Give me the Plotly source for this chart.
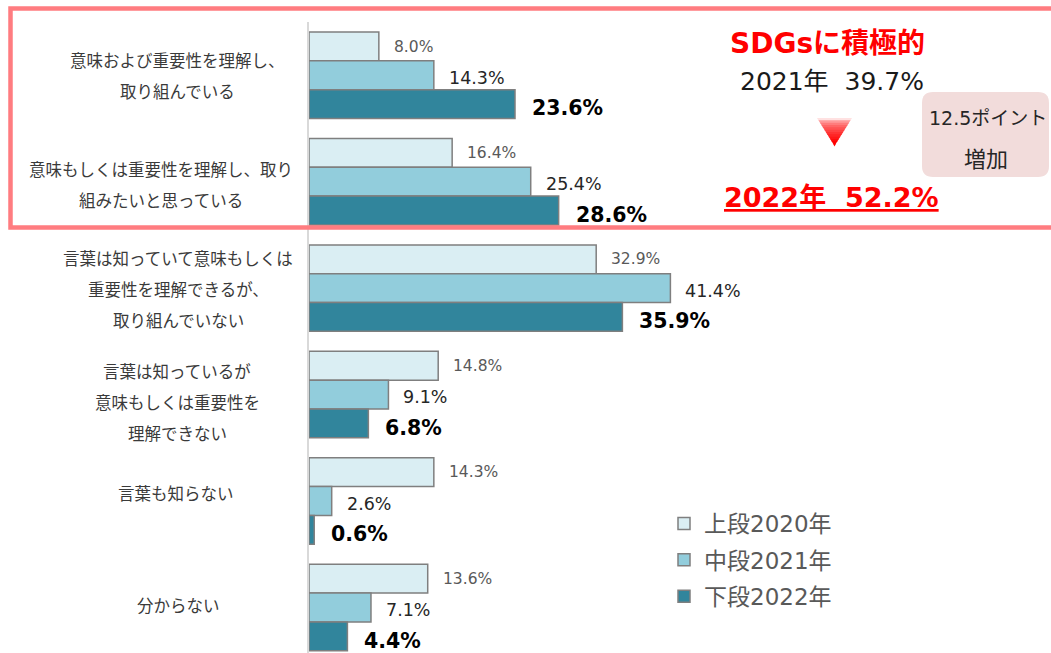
import plotly.graph_objects as go

# ---------------- data ----------------
category_lines = [
    ["意味および重要性を理解し、", "取り組んでいる"],
    ["意味もしくは重要性を理解し、取り", "組みたいと思っている"],
    ["言葉は知っていて意味もしくは", "重要性を理解できるが、", "取り組んでいない"],
    ["言葉は知っているが", "意味もしくは重要性を", "理解できない"],
    ["言葉も知らない"],
    ["分からない"],
]
categories = ["".join(lines) for lines in category_lines]

series_names = ["上段2020年", "中段2021年", "下段2022年"]
values_2020 = [8.0, 16.4, 32.9, 14.8, 14.3, 13.6]
values_2021 = [14.3, 25.4, 41.4, 9.1, 2.6, 7.1]
values_2022 = [23.6, 28.6, 35.9, 6.8, 0.6, 4.4]
series_values = [values_2020, values_2021, values_2022]

title_text = "SDGsに積極的"
before_text = "2021年\u00a0\u00a039.7%"
after_text = "2022年\u00a0\u00a052.2%"
box_lines = ["12.5ポイント", "増加"]

# ---------------- style ----------------
W, H = 1051, 653
ML, MR, MT, MB = 309, 0, 22, 0
PW, PH = W - ML - MR, H - MT - MB
bar_colors = ["#DAEEF3", "#92CDDC", "#31859C"]
NUM_FONT = "DejaVu Sans, Noto Sans CJK JP"
JP_FONT = "Noto Sans CJK JP"


def px2x(px):
    return (px - ML) / PW


def py2y(py):
    return (H - MB - py) / PH


fig = go.Figure()
for name, vals, col in zip(series_names, series_values, bar_colors):
    fig.add_trace(go.Bar(
        y=categories, x=vals, name=name, orientation="h",
        marker=dict(color=col, line=dict(color="#7F7F7F", width=1.5)),
        legendgroup=name, hoverinfo="skip",
    ))

annotations = []
# value labels
label_styles = [
    dict(size=15.5, color="#595959", family=NUM_FONT),
    dict(size=17.5, color="#262626", family=NUM_FONT),
    dict(size=20.5, color="#000000", family=NUM_FONT),
]
bar_px = 28.7
y_adj = [0, -2.5, -4.5]
x_adj = [13, 13, 15]
for i, vals in enumerate(series_values):
    for cat, v in zip(categories, vals):
        text = f"{v:.1f}%"
        if i == 2:
            text = f"<b>{text}</b>"
        annotations.append(dict(
            x=v, y=cat, xref="x", yref="y", text=text, showarrow=False,
            xanchor="left", yanchor="middle", xshift=x_adj[i],
            yshift=(1 - i) * bar_px + y_adj[i], font=label_styles[i],
        ))

# category labels (one annotation per line)
label_cx = [177, 161, 178, 177, 176, 178]
label_dy = [0, 3, 1, 7, -8, -2]
line_gap = 31
for cat, lines, cx, dy in zip(categories, category_lines, label_cx, label_dy):
    n = len(lines)
    for j, ln in enumerate(lines):
        annotations.append(dict(
            x=px2x(cx), y=cat, xref="paper", yref="y", text=ln,
            showarrow=False, xanchor="center", yanchor="middle",
            yshift=((n - 1) / 2 - j) * line_gap - dy,
            font=dict(family=JP_FONT, size=16.5, color="#3A3A3A"),
        ))

# right-side callout texts
annotations += [
    dict(x=px2x(827), y=py2y(43), xref="paper", yref="paper",
         text=f"<b>{title_text}</b>", showarrow=False,
         xanchor="center", yanchor="middle",
         font=dict(family=NUM_FONT, size=28, color="#FF0000")),
    dict(x=px2x(832), y=py2y(82), xref="paper", yref="paper",
         text=before_text, showarrow=False, xanchor="center", yanchor="middle",
         font=dict(family=NUM_FONT, size=25, color="#1A1A1A")),
    dict(x=px2x(831), y=py2y(198), xref="paper", yref="paper",
         text=f"<b><u>{after_text}</u></b>", showarrow=False,
         xanchor="center", yanchor="middle",
         font=dict(family=NUM_FONT, size=27, color="#FF0000")),
    dict(x=px2x(988), y=py2y(118), xref="paper", yref="paper",
         text=box_lines[0], showarrow=False, xanchor="center", yanchor="middle",
         font=dict(family=NUM_FONT, size=19, color="#262626")),
    dict(x=px2x(986), y=py2y(157), xref="paper", yref="paper",
         text=box_lines[1], showarrow=False, xanchor="center", yanchor="middle",
         font=dict(family=JP_FONT, size=22, color="#262626")),
]

shapes = []
# pink frame
shapes.append(dict(type="rect", xref="paper", yref="paper",
                   x0=px2x(10.5), x1=px2x(1070), y0=py2y(227.5), y1=py2y(8.5),
                   line=dict(color="#FF7C80", width=4.5), fillcolor="rgba(0,0,0,0)",
                   layer="above"))

# rounded pink box
bx0, bx1, by0, by1, r = 922, 1049, 92, 177, 11
rx, ry = r / PW, r / PH
X0, X1, Y0, Y1 = px2x(bx0), px2x(bx1), py2y(by1), py2y(by0)
path = (f"M{X0+rx},{Y1} L{X1-rx},{Y1} Q{X1},{Y1} {X1},{Y1-ry} "
        f"L{X1},{Y0+ry} Q{X1},{Y0} {X1-rx},{Y0} L{X0+rx},{Y0} "
        f"Q{X0},{Y0} {X0},{Y0+ry} L{X0},{Y1-ry} Q{X0},{Y1} {X0+rx},{Y1} Z")
shapes.append(dict(type="path", xref="paper", yref="paper", path=path,
                   fillcolor="#F2DCDB", line=dict(width=0), layer="below"))

# gradient down-triangle
tcx, ttop, tbot, thw = 834.5, 118, 146, 17.5
nstrip = 12
for k in range(nstrip):
    t0, t1 = k / nstrip, (k + 1) / nstrip
    ya, yb = ttop + t0 * (tbot - ttop), ttop + t1 * (tbot - ttop) + 0.6
    wa, wb = thw * (1 - t0), thw * max(0.0, 1 - t1 - 0.6 / (tbot - ttop))
    f = min(1.0, (k / (nstrip - 1)) ** 0.5 * 1.05)
    g = int(round(225 * (1 - f)))
    col = f"rgb(255,{g},{g})"
    p = (f"M{px2x(tcx-wa)},{py2y(ya)} L{px2x(tcx+wa)},{py2y(ya)} "
         f"L{px2x(tcx+wb)},{py2y(yb)} L{px2x(tcx-wb)},{py2y(yb)} Z")
    shapes.append(dict(type="path", xref="paper", yref="paper", path=p,
                       fillcolor=col, line=dict(width=0), layer="above"))

fig.update_layout(
    width=W, height=H,
    margin=dict(l=ML, r=MR, t=MT, b=MB, pad=0),
    paper_bgcolor="white", plot_bgcolor="white",
    barmode="group", bargap=0.188, bargroupgap=0,
    xaxis=dict(range=[0, 85], visible=False, fixedrange=True),
    yaxis=dict(type="category", categoryorder="array", categoryarray=categories,
               range=[5.4276, -0.5], showticklabels=False, showgrid=False,
               zeroline=False, ticks="", showline=True, linecolor="#D9D9D9",
               linewidth=2, fixedrange=True),
    showlegend=True,
    legend=dict(x=px2x(664), y=py2y(502), xanchor="left", yanchor="top",
                traceorder="grouped", tracegroupgap=3.5,
                bgcolor="rgba(0,0,0,0)", borderwidth=0,
                font=dict(family=NUM_FONT, size=23, color="#595959")),
    annotations=annotations,
    shapes=shapes,
)

fig.write_html(
    "out.html",
    config={"displayModeBar": False},
    post_script="document.body.style.margin='0';document.body.style.overflow='hidden';",
)
